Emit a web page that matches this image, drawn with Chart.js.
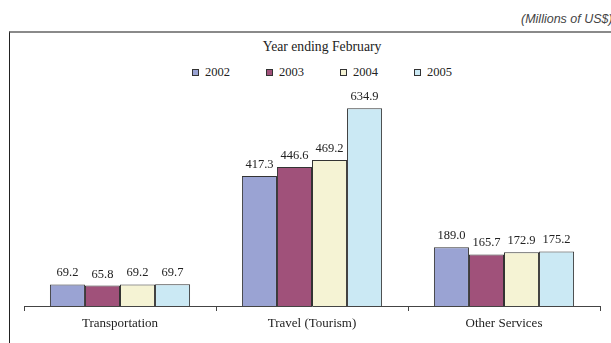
<!DOCTYPE html>
<html>
<head>
<meta charset="utf-8">
<script src="https://cdn.jsdelivr.net/npm/chart.js@4.4.1/dist/chart.umd.min.js"></script>
<style>
	html, body { margin: 0; padding: 0; background: #fff; overflow: hidden; }
	body { width: 611px; height: 343px; position: relative; }
	#unit {
		position: absolute; left: 521px; top: 12px;
		font: italic 12.5px "Liberation Sans", Arial, sans-serif; color: #444;
		white-space: nowrap;
	}
	#frame {
		position: absolute; left: 9px; top: 31px; width: 700px; height: 400px;
		border-top: 2px solid #8a8a8a; border-left: 1px solid #222;
	}
	#chartTitle {
		position: absolute; left: 172px; top: 39px; width: 300px; text-align: center;
		font: 13.7px "Liberation Serif", "Times New Roman", serif; line-height: 16px; color: #222;
	}
	#legend {
		position: absolute; left: 192px; top: 65px; display: flex;
		font: 12.5px "Liberation Serif", "Times New Roman", serif; line-height: 14px; color: #222;
	}
	#legend .item { width: 74px; display: flex; align-items: center; }
	#legend .box { width: 5px; height: 5px; border: 1px solid #333; margin-right: 6px; }
	#wrap { position: absolute; left: 10px; top: 33px; width: 600px; height: 310px; }
</style>
</head>
<body>
<div id="unit">(Millions of US$)</div>
<div id="frame"></div>
<div id="chartTitle">Year ending February</div>
<div id="legend"></div>
<div id="wrap"><canvas id="servicesChart"></canvas></div>
<script>
const categories = ["Transportation", "Travel (Tourism)", "Other Services"];
const years = ["2002", "2003", "2004", "2005"];
const values2002 = [69.2, 417.3, 189.0];
const values2003 = [65.8, 446.6, 165.7];
const values2004 = [69.2, 469.2, 172.9];
const values2005 = [69.7, 634.9, 175.2];
const barColors = ["#9aa3d3", "#a0517a", "#f5f3d4", "#cbe9f4"];

const allSeries = [values2002, values2003, values2004, values2005];
const serif = "'Liberation Serif', 'Times New Roman', serif";

// value labels above every bar
const valueLabels = {
	id: "valueLabels",
	afterDatasetsDraw(chart) {
		const ctx = chart.ctx;
		ctx.save();
		ctx.font = "12.5px " + serif;
		ctx.fillStyle = "#222";
		ctx.textAlign = "center";
		ctx.textBaseline = "alphabetic";
		chart.data.datasets.forEach(function (ds, i) {
			chart.getDatasetMeta(i).data.forEach(function (bar, j) {
				ctx.fillText(ds.data[j].toFixed(1), bar.x, bar.y - 8);
			});
		});
		ctx.restore();
	}
};

new Chart(document.getElementById("servicesChart"), {
	type: "bar",
	data: {
		labels: categories,
		datasets: years.map(function (y, i) {
			return {
				label: y,
				data: allSeries[i],
				backgroundColor: barColors[i],
				borderColor: "#333",
				borderWidth: 1,
				categoryPercentage: 0.73,
				barPercentage: 1.0
			};
		})
	},
	options: {
		responsive: true,
		maintainAspectRatio: false,
		animation: false,
		layout: { padding: { left: 14, right: 10, top: 55, bottom: 0 } },
		plugins: {
			legend: { display: false },
			title: { display: false },
			tooltip: { enabled: false }
		},
		scales: {
			x: {
				offset: true,
				grid: {
					display: true,
					drawOnChartArea: false,
					drawTicks: true,
					tickLength: 5,
					color: "#444",
					offset: true
				},
				border: { display: true, color: "#444", width: 1 },
				ticks: {
					color: "#222",
					font: { family: serif, size: 13 },
					padding: 5
				},
				afterFit: function (scale) { scale.height = 37; }
			},
			y: {
				display: false,
				min: 0,
				max: 700
			}
		}
	},
	plugins: [valueLabels]
});

// legend built by hand
let legendHtml = "";
years.forEach(function (y, i) {
	legendHtml +=
		'<div class="item"><span class="box" style="background:' + barColors[i] + ';"></span>' +
		"<span>" + y + "</span></div>";
});
document.getElementById("legend").innerHTML = legendHtml;
</script>
</body>
</html>
